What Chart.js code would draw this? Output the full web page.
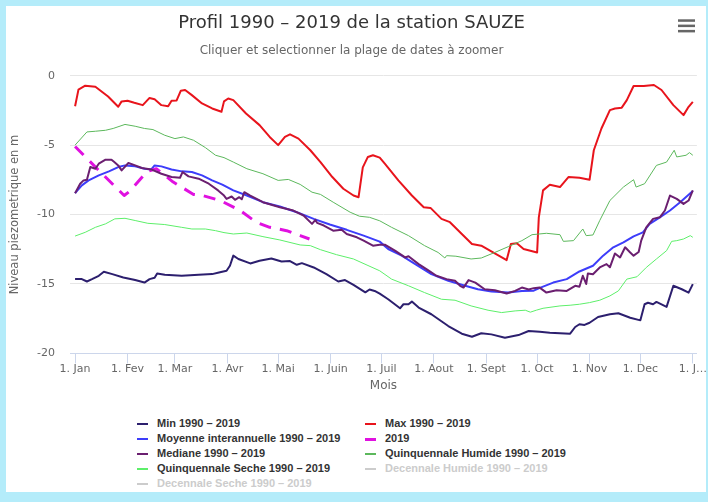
<!DOCTYPE html>
<html>
<head>
<meta charset="utf-8">
<script src="https://cdn.jsdelivr.net/npm/chart.js@4.4.0/dist/chart.umd.min.js"></script>
<style>
  body { margin: 0; background: #b4ecfa; width: 708px; height: 502px; overflow: hidden; }
  #card { position: absolute; left: 6px; top: 6px; width: 700px; height: 486px; background: #fff; }
  #chart { position: absolute; left: 0; top: 0; }
  .item { position: absolute; height: 14px; line-height: 14px; white-space: nowrap;
          font: bold 11px "Liberation Sans", sans-serif; color: #333; }
  .item.off { color: #ccc; }
  .sym { position: absolute; left: 0; }
  .txt { position: absolute; left: 22px; top: 0; }
</style>
</head>
<body>
<div id="card">
  <canvas id="chart" width="700" height="400"></canvas>
  <div id="legend"></div>
</div>
<script>
const monthStarts = [0, 31, 59, 90, 120, 151, 181, 212, 243, 273, 304, 334, 365];
const monthLabels = ["1. Jan", "1. Fev", "1. Mar", "1. Avr", "1. Mai", "1. Juin", "1. Juil",
                     "1. Aout", "1. Sept", "1. Oct", "1. Nov", "1. Dec", "1. J…"];

// [jour de l'annee, niveau en m]
const minSerie = [[0,-14.65],[4,-14.65],[7,-14.82],[10,-14.65],[14,-14.41],[17,-14.12],[22,-14.29],
  [28.5,-14.53],[35.5,-14.72],[41,-14.9],[44,-14.65],[47,-14.55],[48.5,-14.24],[53,-14.34],[63,-14.41],
  [73,-14.34],[81,-14.29],[85,-14.17],[89.5,-14.05],[91.5,-13.69],[93.5,-12.96],[96.5,-13.2],
  [103.5,-13.52],[109,-13.33],[116,-13.16],[122,-13.38],[127,-13.35],[131,-13.62],[134,-13.5],
  [141,-13.81],[148.5,-14.29],[155.5,-14.82],[159.5,-14.72],[164.5,-15.06],[171.5,-15.6],[174,-15.4],
  [177,-15.5],[180,-15.7],[185,-16.1],[192,-16.75],[194,-16.46],[197,-16.46],[199,-16.27],[203,-16.7],
  [210.5,-17.18],[220.5,-18.03],[228.5,-18.58],[234.5,-18.8],[240,-18.55],[246,-18.63],[254,-18.87],
  [262,-18.68],[268,-18.39],[274.5,-18.44],[280.5,-18.51],[286.5,-18.55],[292.5,-18.58],[295.5,-18.1],
  [298,-17.9],[301,-17.95],[304,-17.79],[309,-17.38],[316,-17.18],[321,-17.11],[328,-17.43],
  [334,-17.62],[336.5,-16.46],[338.5,-16.35],[341.5,-16.46],[343.5,-16.29],[349.5,-16.65],
  [353.5,-15.13],[358.5,-15.38],[362.5,-15.62],[365,-15.01]];

const maxSerie = [[0,-2.2],[2,-1.0],[6,-0.72],[12,-0.8],[19.5,-1.5],[25.5,-2.24],[27.5,-1.85],[31,-1.8],
  [35,-1.95],[40,-2.12],[44,-1.6],[47,-1.7],[51,-2.12],[55,-2.2],[57,-1.8],[60,-1.78],[62.5,-1.08],
  [65,-1.03],[69,-1.4],[75,-2.0],[81,-2.36],[86.5,-2.6],[88,-1.85],[90.5,-1.64],[93.5,-1.76],
  [101,-2.72],[109,-3.56],[115,-4.41],[120,-5.0],[124,-4.41],[127,-4.22],[132,-4.53],[139,-5.37],
  [145,-6.22],[152,-7.3],[158.5,-8.14],[164.5,-8.63],[167.5,-8.75],[170,-6.6],[173,-5.85],[176,-5.73],
  [180,-5.9],[183,-6.34],[191,-7.54],[199,-8.63],[206,-9.47],[210,-9.52],[216.5,-10.31],[221.5,-10.55],
  [228.5,-11.4],[234.5,-12.12],[240,-12.24],[248,-12.8],[255,-13.28],[257.5,-12.12],[261,-12.07],
  [265,-12.48],[273,-12.73],[274,-10.2],[276.5,-8.26],[280.5,-7.85],[286.5,-8.02],[291.5,-7.3],
  [298,-7.35],[304,-7.49],[306.5,-5.37],[311,-3.8],[316,-2.48],[319,-2.36],[323,-2.3],[326,-1.76],
  [330,-0.74],[336,-0.75],[342,-0.67],[346.5,-1.03],[353.5,-2.12],[359.5,-2.84],[362.5,-2.24],[365,-1.88]];

const moyenneSerie = [[0,-8.46],[4,-7.9],[8,-7.54],[14,-7.18],[20,-6.89],[25.5,-6.58],[29.5,-6.46],
  [35.5,-6.53],[41,-6.7],[45,-6.75],[47,-6.46],[51,-6.53],[57,-6.75],[63,-6.89],[69,-6.94],[75,-7.18],
  [81,-7.54],[87,-7.85],[93.5,-8.26],[101.5,-8.63],[111,-9.11],[121,-9.42],[131,-9.83],[141,-10.31],
  [150.5,-10.72],[160.5,-11.1],[170.5,-11.52],[180,-11.95],[185,-12.48],[193,-12.96],[201,-13.57],
  [210.5,-14.29],[220.5,-14.77],[230.5,-15.13],[238,-15.38],[246,-15.54],[256,-15.62],[264,-15.5],
  [271,-15.48],[275,-15.26],[282.5,-14.9],[290.5,-14.65],[298,-14.1],[306,-13.69],[312,-12.96],
  [318,-12.36],[324,-12.0],[330,-11.57],[335.5,-11.28],[339.5,-10.67],[345.5,-10.2],[351.5,-9.71],
  [357.5,-9.11],[365,-8.31]];

const annee2019 = [[0,-5.1],[14,-6.82],[29,-8.63],[32.5,-8.3],[42.5,-6.9],[48,-6.7],[58,-7.66],
  [70,-8.55],[76,-8.65],[86,-9.0],[97.5,-9.71],[107,-10.55],[115,-10.92],[125,-11.16],[133,-11.52],
  [138.5,-11.76]];

const medianeSerie = [[0,-8.46],[3,-7.78],[5,-7.54],[7,-7.5],[9,-6.58],[12,-6.7],[14,-6.34],[18,-6.05],
  [21.5,-6.05],[23,-6.2],[25.5,-6.46],[27.5,-6.82],[31.5,-6.29],[35.5,-6.46],[39.5,-6.65],[45,-6.75],
  [51,-7.06],[57,-7.3],[62,-7.35],[63.5,-6.94],[67,-7.25],[73,-7.42],[79,-7.78],[84.5,-8.26],[88,-8.63],
  [89.5,-8.87],[92.5,-8.7],[94.5,-8.94],[97,-8.75],[98.5,-8.9],[100,-8.39],[103.5,-8.63],[111,-9.11],
  [121,-9.47],[129,-9.71],[135,-10.07],[140,-10.67],[142,-10.38],[143,-10.6],[147,-10.79],
  [152.5,-11.16],[157.5,-11.1],[160.5,-11.4],[166.5,-11.64],[170.5,-11.88],[176,-12.24],[180,-12.17],
  [183,-12.17],[189,-12.6],[195,-13.09],[197,-13.0],[203,-13.57],[208.5,-14.0],[213.5,-14.41],
  [219.5,-14.65],[224.5,-14.77],[227.5,-15.13],[229.5,-15.26],[232.5,-14.72],[236.5,-14.9],
  [242,-15.38],[248,-15.45],[255,-15.69],[260,-15.5],[264,-15.26],[268,-15.4],[271,-15.3],
  [274.5,-15.26],[278.5,-15.62],[284.5,-15.45],[290.5,-15.5],[295.5,-15.13],[298,-15.2],[300,-14.41],
  [302,-15.0],[303,-14.24],[306,-14.3],[310,-13.81],[314,-13.57],[316,-13.8],[319,-12.8],[322,-13.09],
  [325,-12.36],[328,-12.73],[330,-12.96],[333,-12.7],[334.5,-11.88],[337.5,-10.92],[341.5,-10.31],
  [345.5,-10.2],[348.5,-9.71],[351.5,-8.63],[355.5,-8.87],[359.5,-9.23],[362.5,-8.99],[365,-8.26]];

const quinqHumide = [[0,-5.0],[7,-4.05],[12,-4.0],[18,-3.93],[22.5,-3.8],[29.5,-3.51],[35.5,-3.64],
  [41,-3.8],[46,-3.88],[53,-4.29],[59,-4.53],[64,-4.41],[70,-4.65],[77,-5.18],[83,-5.73],[88,-5.9],
  [93.5,-6.22],[101.5,-6.7],[111,-7.06],[120,-7.54],[126,-7.47],[133,-7.83],[140,-8.39],[145,-8.55],
  [152.5,-9.11],[162.5,-9.83],[168,-10.12],[174,-10.2],[180,-10.45],[187,-10.92],[197,-11.52],
  [206.5,-12.24],[214.5,-12.73],[218.5,-13.13],[219.5,-12.96],[225,-13.0],[234,-13.2],[240,-13.13],
  [248,-12.73],[256,-12.31],[264,-11.88],[270,-11.45],[278.5,-11.35],[286.5,-11.45],[288.5,-11.93],
  [294.5,-11.88],[300,-11.04],[302,-11.52],[306,-11.47],[310,-10.43],[316,-8.99],[324,-8.02],
  [330,-7.49],[331.5,-8.02],[336.5,-7.78],[343.5,-6.46],[349.5,-6.22],[354,-5.37],[355.5,-5.85],
  [361,-5.73],[363,-5.54],[365,-5.73]];

const quinqSeche = [[0,-11.55],[6,-11.28],[12,-10.92],[18,-10.67],[23.5,-10.31],[29.5,-10.27],
  [35.5,-10.43],[43,-10.63],[53,-10.72],[63,-10.92],[69,-11.04],[77,-11.04],[83,-11.16],[88,-11.3],
  [93.5,-11.4],[101.5,-11.33],[111,-11.59],[121,-11.83],[133,-12.19],[139,-12.24],[145,-12.53],
  [154.5,-12.89],[164.5,-13.2],[172.5,-13.64],[180,-14.05],[187,-14.65],[197,-15.13],[206.5,-15.62],
  [216.5,-16.1],[224.5,-16.17],[234,-16.58],[244,-16.89],[252,-17.06],[260,-16.94],[266,-16.89],
  [269,-17.03],[272.5,-16.89],[276.5,-16.75],[286.5,-16.58],[292.5,-16.53],[298,-16.46],[304,-16.34],
  [310,-16.17],[316,-15.86],[321,-15.5],[326,-14.65],[332,-14.48],[337.5,-13.81],[343.5,-13.2],
  [349.5,-12.6],[352.5,-11.93],[355.5,-11.88],[359.5,-11.76],[363.5,-11.52],[365,-11.64]];

const toPoints = s => s.map(p => ({ x: p[0], y: p[1] }));

const series = [
  { label: "Min 1990 – 2019", data: minSerie, color: "#2c1f6e", width: 2 },
  { label: "Max 1990 – 2019", data: maxSerie, color: "#e8141c", width: 2 },
  { label: "Moyenne interannuelle 1990 – 2019", data: moyenneSerie, color: "#3d3dfa", width: 2 },
  { label: "2019", data: annee2019, color: "#e011e0", width: 3, dash: [12, 9] },
  { label: "Mediane 1990 – 2019", data: medianeSerie, color: "#6b1f70", width: 2 },
  { label: "Quinquennale Humide 1990 – 2019", data: quinqHumide, color: "#5cb85c", width: 1 },
  { label: "Quinquennale Seche 1990 – 2019", data: quinqSeche, color: "#5def6a", width: 1 },
  { label: "Decennale Humide 1990 – 2019", data: [], color: "#cccccc", width: 1, hidden: true },
  { label: "Decennale Seche 1990 – 2019", data: [], color: "#cccccc", width: 1, hidden: true }
];

const hamburger = {
  id: "hamburger",
  afterDraw(chart) {
    const ctx = chart.ctx;
    ctx.save();
    ctx.fillStyle = "#666";
    for (let i = 0; i < 3; i++) ctx.fillRect(672, 13.3 + i * 5.3, 17, 2.5);
    ctx.restore();
  }
};

const htmlLegend = {
  id: "htmlLegend",
  afterUpdate(chart) {
    const box = document.getElementById("legend");
    box.innerHTML = "";
    chart.data.datasets.forEach((ds, i) => {
      const col = i % 2, row = Math.floor(i / 2);
      const item = document.createElement("div");
      item.className = "item" + (ds.hidden ? " off" : "");
      item.style.left = (col ? 357 : 129) + "px";
      item.style.top = (411 + row * 15) + "px";
      const sym = document.createElement("span");
      sym.className = "sym";
      const w = ds.borderDash ? 11 : 16;
      sym.style.width = w + "px";
      sym.style.left = (ds.borderDash ? 2 : 0) + "px";
      sym.style.height = Math.max(ds.borderWidth, 2) + "px";
      sym.style.top = (7 - Math.max(ds.borderWidth, 2) / 2) + "px";
      sym.style.background = ds.hidden ? "#ccc" : ds.borderColor;
      const txt = document.createElement("span");
      txt.className = "txt";
      txt.textContent = ds.label;
      item.appendChild(sym);
      item.appendChild(txt);
      box.appendChild(item);
    });
  }
};

new Chart(document.getElementById("chart"), {
  type: "line",
  data: {
    datasets: series.map((s, i) => ({
      label: s.label,
      data: toPoints(s.data),
      borderColor: s.color,
      backgroundColor: s.color,
      borderWidth: s.width,
      borderDash: s.dash || [],
      hidden: !!s.hidden,
      order: -i,
      pointRadius: 0,
      tension: 0,
      borderJoinStyle: "round",
      fill: false
    }))
  },
  options: {
    responsive: false,
    animation: false,
    devicePixelRatio: 1,
    layout: { padding: { left: 0, right: 9, top: 0, bottom: 13 } },
    plugins: {
      legend: { display: false },
      tooltip: { enabled: false },
      title: {
        display: true,
        text: "Profil 1990 – 2019 de la station SAUZE",
        color: "#333",
        font: { family: "DejaVu Sans", size: 18, weight: "normal" },
        padding: { top: 7, bottom: 9 }
      },
      subtitle: {
        display: true,
        text: "Cliquer et selectionner la plage de dates à zoomer",
        color: "#666",
        font: { family: "DejaVu Sans", size: 12 },
        padding: { top: 0, bottom: 17.7 }
      }
    },
    scales: {
      x: {
        type: "linear",
        min: -3,
        max: 367.4,
        afterBuildTicks: scale => { scale.ticks = monthStarts.map(v => ({ value: v })); },
        ticks: {
          autoSkip: false,
          maxRotation: 0,
          padding: -1,
          color: "#666",
          font: { family: "DejaVu Sans", size: 11 },
          callback: (v, i) => monthLabels[i]
        },
        grid: { drawOnChartArea: false, color: "#ccd6eb", tickLength: 10 },
        border: { color: "#ccd6eb" },
        title: {
          display: true,
          text: "Mois",
          color: "#666",
          font: { family: "DejaVu Sans", size: 12 },
          padding: { top: 4, bottom: 0 }
        }
      },
      y: {
        min: -20,
        max: 0,
        afterFit: scale => { scale.width = 64; },
        ticks: {
          stepSize: 5,
          padding: 15,
          color: "#666",
          font: { family: "DejaVu Sans", size: 11 }
        },
        grid: { color: "#e6e6e6", drawTicks: false },
        border: { display: false },
        title: {
          display: true,
          text: "Niveau piezometrique en m",
          color: "#666",
          font: { family: "DejaVu Sans", size: 11.5 },
          padding: { top: 2, bottom: 0 }
        }
      }
    }
  },
  plugins: [hamburger, htmlLegend]
});
</script>
</body>
</html>
